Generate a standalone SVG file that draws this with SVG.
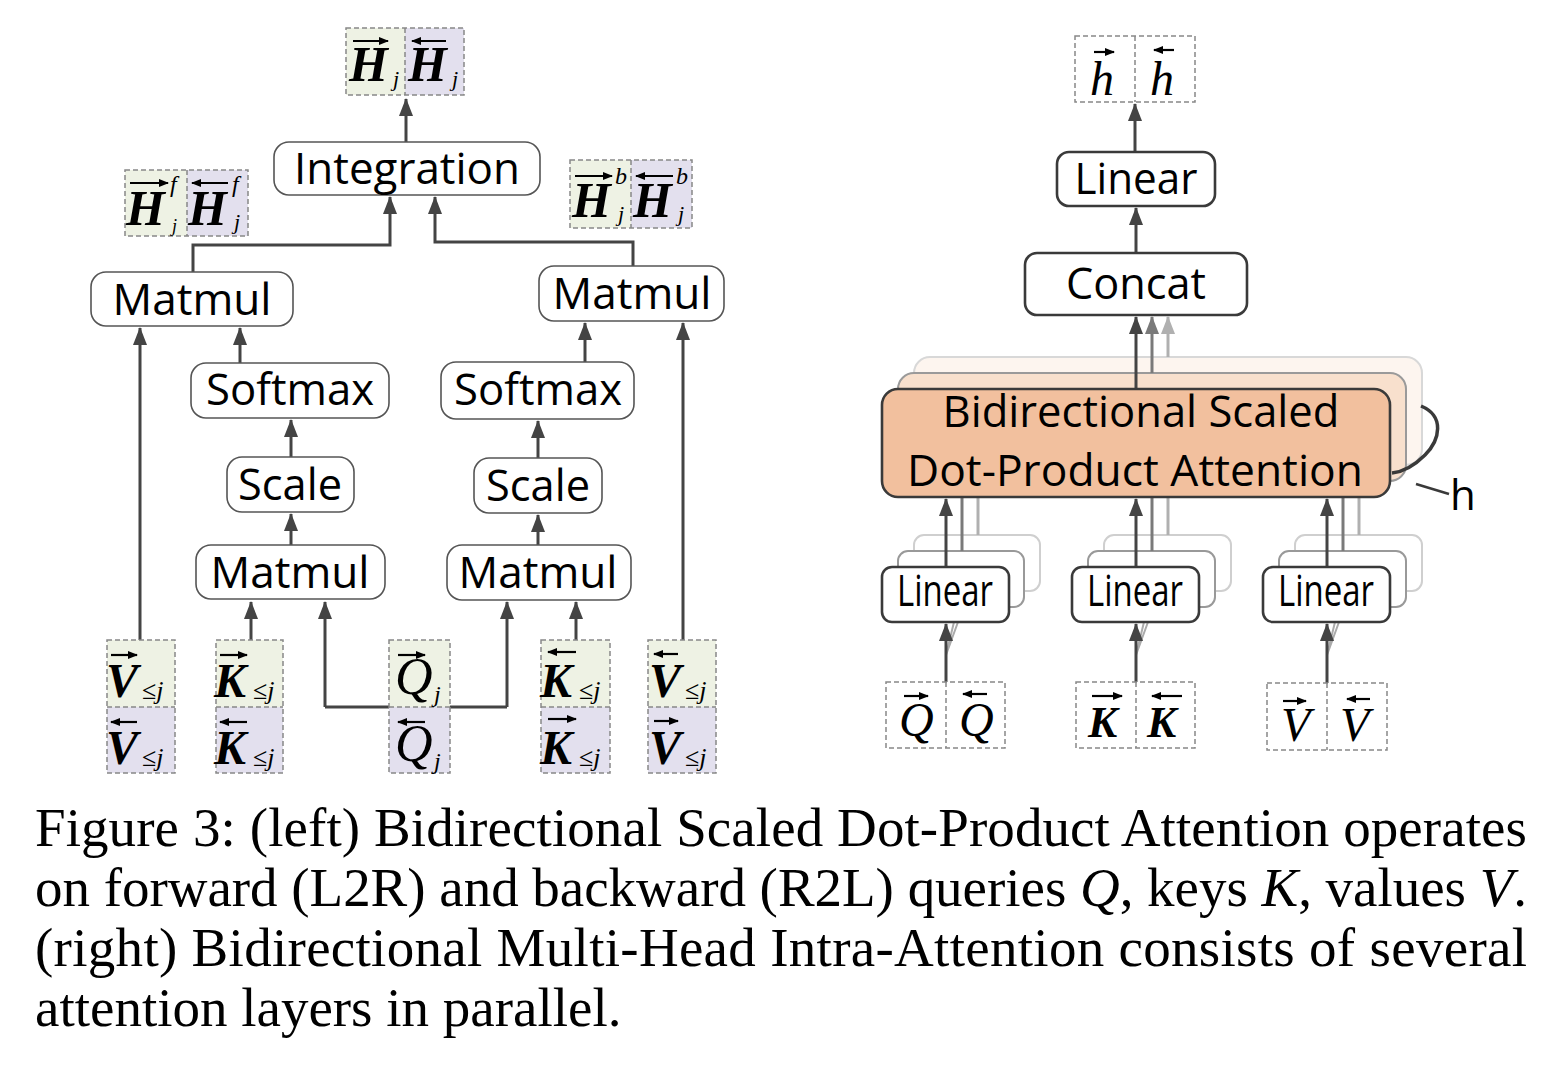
<svg xmlns="http://www.w3.org/2000/svg" width="1560" height="1066" viewBox="0 0 1560 1066">
<style>
.nb{fill:#fff;stroke:#555;stroke-width:1.6}
.nr{fill:#fff;stroke:#3a3a3a;stroke-width:2.6}
.lbl{font-family:"Open Sans","Noto Sans",sans-serif;font-size:43px;fill:#000;text-anchor:middle}
.cg{fill:#eef2e4}
.cp{fill:#e3e0ee}
.cw{fill:#fff}
.dash{fill:none;stroke:#888;stroke-width:1.5;stroke-dasharray:5 3}
.m{font-family:"Liberation Serif","Times New Roman",serif;font-style:italic;fill:#000}
.mb{font-weight:bold}
.ov{fill:none;stroke:#000;stroke-width:2.2}
.c{fill:none;stroke:#444;stroke-width:3}
.c2{fill:none;stroke:#7a7a7a;stroke-width:3}
.c3{fill:none;stroke:#b0b0b0;stroke-width:3}
.cap{font-family:"Liberation Serif","Times New Roman",serif;font-size:55px;fill:#000}
</style>
<defs>
<marker id="ah" markerUnits="userSpaceOnUse" markerWidth="18" markerHeight="14" viewBox="0 0 18 14" refX="17" refY="7" orient="auto"><path d="M0,0 L18,7 L0,14 z" fill="#444"/></marker>
<marker id="ah2" markerUnits="userSpaceOnUse" markerWidth="18" markerHeight="14" viewBox="0 0 18 14" refX="17" refY="7" orient="auto"><path d="M0,0 L18,7 L0,14 z" fill="#7a7a7a"/></marker>
<marker id="ah3" markerUnits="userSpaceOnUse" markerWidth="18" markerHeight="14" viewBox="0 0 18 14" refX="17" refY="7" orient="auto"><path d="M0,0 L18,7 L0,14 z" fill="#b0b0b0"/></marker>
<marker id="oa" markerUnits="userSpaceOnUse" markerWidth="10" markerHeight="8" viewBox="0 0 10 8" refX="9" refY="4" orient="auto"><path d="M0,0 L10,4 L0,8 z" fill="#000"/></marker>
</defs>

<g id="att-back">
<rect x="914" y="357" width="508" height="108" rx="16" fill="#fdf5ef" stroke="#d8d8d8" stroke-width="2"/>
<rect x="898" y="373" width="508" height="108" rx="16" fill="#f8e0cd" stroke="#9a9a9a" stroke-width="2"/>
</g>
<g id="lin-back">
<rect x="914" y="535" width="126" height="56" rx="10" fill="#fff" stroke="#cfcfcf" stroke-width="2"/>
<rect x="898" y="551" width="126" height="56" rx="10" fill="#fff" stroke="#999" stroke-width="2"/>
<rect x="1104" y="535" width="127" height="56" rx="10" fill="#fff" stroke="#cfcfcf" stroke-width="2"/>
<rect x="1088" y="551" width="127" height="56" rx="10" fill="#fff" stroke="#999" stroke-width="2"/>
<rect x="1295" y="535" width="127" height="56" rx="10" fill="#fff" stroke="#cfcfcf" stroke-width="2"/>
<rect x="1279" y="551" width="127" height="56" rx="10" fill="#fff" stroke="#999" stroke-width="2"/>
</g>

<g id="connectors">
<path class="c" d="M406,142 L406,99" marker-end="url(#ah)"/>
<path class="c" d="M193,272 L193,245 L390,245 L390,197" marker-end="url(#ah)"/>
<path class="c" d="M633,266 L633,242 L435,242 L435,197" marker-end="url(#ah)"/>
<path class="c" d="M240,363 L240,328" marker-end="url(#ah)"/>
<path class="c" d="M291,457 L291,420" marker-end="url(#ah)"/>
<path class="c" d="M291,545 L291,514" marker-end="url(#ah)"/>
<path class="c" d="M585,362 L585,323" marker-end="url(#ah)"/>
<path class="c" d="M538,458 L538,421" marker-end="url(#ah)"/>
<path class="c" d="M538,545 L538,515" marker-end="url(#ah)"/>
<path class="c" d="M140,640 L140,328" marker-end="url(#ah)"/>
<path class="c" d="M683,640 L683,323" marker-end="url(#ah)"/>
<path class="c" d="M251,640 L251,602" marker-end="url(#ah)"/>
<path class="c" d="M576,640 L576,602" marker-end="url(#ah)"/>
<path class="c" d="M325,707 L325,602" marker-end="url(#ah)"/>
<path class="c" d="M507,707 L507,602" marker-end="url(#ah)"/>
<path class="c" d="M325,707 L507,707"/>
<path class="c" d="M1135,152 L1135,104" marker-end="url(#ah)"/>
<path class="c" d="M1136,253 L1136,208" marker-end="url(#ah)"/>
<path class="c3" d="M1168,357 L1168,317" marker-end="url(#ah3)"/>
<path class="c2" d="M1152,373 L1152,317" marker-end="url(#ah2)"/>
<path class="c" d="M1136,389 L1136,317" marker-end="url(#ah)"/>
<path class="c3" d="M978,535 L978,497"/>
<path class="c2" d="M962,551 L962,497"/>
<path class="c" d="M946,567 L946,499" marker-end="url(#ah)"/>
<path class="c3" d="M1168,535 L1168,497"/>
<path class="c2" d="M1152,551 L1152,497"/>
<path class="c" d="M1136,567 L1136,499" marker-end="url(#ah)"/>
<path class="c3" d="M1359,535 L1359,497"/>
<path class="c2" d="M1343,551 L1343,497"/>
<path class="c" d="M1327,567 L1327,499" marker-end="url(#ah)"/>
<path d="M946,655 L958,622 M946,655 L954,622" stroke="#aaa" stroke-width="2" fill="none"/>
<path d="M1136,655 L1148,622 M1136,655 L1144,622" stroke="#aaa" stroke-width="2" fill="none"/>
<path d="M1327,655 L1339,622 M1327,655 L1335,622" stroke="#aaa" stroke-width="2" fill="none"/>
<path class="c" d="M946,682 L946,624" marker-end="url(#ah)"/>
<path class="c" d="M1136,682 L1136,624" marker-end="url(#ah)"/>
<path class="c" d="M1327,683 L1327,624" marker-end="url(#ah)"/>
<path d="M1421,406 C1445,416 1440,440 1425,455 C1412,468 1402,472 1392,473" fill="none" stroke="#3a3a3a" stroke-width="3.5"/>
<path d="M1416,484 L1449,494" stroke="#3a3a3a" stroke-width="2.5"/>
</g>

<g id="H-out">
<rect class="cg" x="346" y="28" width="59" height="67"/><rect class="cp" x="405" y="28" width="59" height="67"/>
<rect class="dash" x="346" y="28" width="118" height="67"/><line class="dash" x1="405" y1="28" x2="405" y2="95"/>
<path class="ov" d="M353,41 L388,41" marker-end="url(#oa)"/>
<text class="m mb" x="349" y="81" font-size="50">H</text><text class="m" x="393" y="86" font-size="22">j</text>
<path class="ov" d="M446,41 L412,41" marker-end="url(#oa)"/>
<text class="m mb" x="408" y="81" font-size="50">H</text><text class="m" x="452" y="86" font-size="22">j</text>
</g>
<g id="H-f">
<rect class="cg" x="125" y="170" width="62" height="66"/><rect class="cp" x="187" y="170" width="61" height="66"/>
<rect class="dash" x="125" y="170" width="123" height="66"/><line class="dash" x1="187" y1="170" x2="187" y2="236"/>
<path class="ov" d="M130,183 L168,183" marker-end="url(#oa)"/>
<text class="m mb" x="126" y="225" font-size="50">H</text><text class="m" x="170" y="192" font-size="24">f</text><text class="m" x="172" y="232" font-size="18">j</text>
<path class="ov" d="M228,183 L192,183" marker-end="url(#oa)"/>
<text class="m mb" x="188" y="225" font-size="50">H</text><text class="m" x="232" y="192" font-size="24">f</text><text class="m" x="234" y="229" font-size="22">j</text>
</g>
<g id="H-b">
<rect class="cg" x="570" y="160" width="61" height="68"/><rect class="cp" x="631" y="160" width="61" height="68"/>
<rect class="dash" x="570" y="160" width="122" height="68"/><line class="dash" x1="631" y1="160" x2="631" y2="228"/>
<path class="ov" d="M575,176 L612,176" marker-end="url(#oa)"/>
<text class="m mb" x="572" y="217" font-size="50">H</text><text class="m" x="615" y="184" font-size="24">b</text><text class="m" x="618" y="221" font-size="22">j</text>
<path class="ov" d="M673,176 L636,176" marker-end="url(#oa)"/>
<text class="m mb" x="633" y="217" font-size="50">H</text><text class="m" x="676" y="184" font-size="24">b</text><text class="m" x="678" y="221" font-size="22">j</text>
</g>
<g id="integration"><rect class="nb" x="274" y="142" width="266" height="53" rx="15"/><text class="lbl" x="407" y="184" textLength="226" lengthAdjust="spacingAndGlyphs">Integration</text></g>
<g id="matmul-top-l"><rect class="nb" x="91" y="272" width="202" height="54" rx="15"/><text class="lbl" x="192" y="315" font-size="45" textLength="159" lengthAdjust="spacingAndGlyphs">Matmul</text></g>
<g id="matmul-top-r"><rect class="nb" x="539" y="266" width="185" height="55" rx="15"/><text class="lbl" x="632" y="309" font-size="45" textLength="159" lengthAdjust="spacingAndGlyphs">Matmul</text></g>
<g id="softmax-l"><rect class="nb" x="191" y="363" width="198" height="55" rx="15"/><text class="lbl" x="290" y="405" textLength="168" lengthAdjust="spacingAndGlyphs">Softmax</text></g>
<g id="softmax-r"><rect class="nb" x="441" y="362" width="193" height="57" rx="15"/><text class="lbl" x="538" y="405" textLength="168" lengthAdjust="spacingAndGlyphs">Softmax</text></g>
<g id="scale-l"><rect class="nb" x="227" y="457" width="127" height="55" rx="15"/><text class="lbl" x="290" y="500" textLength="104" lengthAdjust="spacingAndGlyphs">Scale</text></g>
<g id="scale-r"><rect class="nb" x="474" y="458" width="128" height="55" rx="15"/><text class="lbl" x="538" y="501" textLength="104" lengthAdjust="spacingAndGlyphs">Scale</text></g>
<g id="matmul-bot-l"><rect class="nb" x="196" y="545" width="189" height="54" rx="15"/><text class="lbl" x="290" y="588" textLength="159" lengthAdjust="spacingAndGlyphs">Matmul</text></g>
<g id="matmul-bot-r"><rect class="nb" x="447" y="545" width="184" height="55" rx="15"/><text class="lbl" x="538" y="588" textLength="159" lengthAdjust="spacingAndGlyphs">Matmul</text></g>

<g id="V-l">
<rect class="cg" x="107" y="640" width="68" height="67"/><rect class="cp" x="107" y="707" width="68" height="66"/>
<rect class="dash" x="107" y="640" width="68" height="133"/><line class="dash" x1="107" y1="707" x2="175" y2="707"/>
<path class="ov" d="M111,655 L137,655" marker-end="url(#oa)"/>
<text class="m mb" x="106" y="697" font-size="48">V</text><text class="m" x="142" y="699" font-size="26"><tspan font-style="normal">≤</tspan>j</text>
<path class="ov" d="M137,722 L111,722" marker-end="url(#oa)"/>
<text class="m mb" x="106" y="764" font-size="48">V</text><text class="m" x="142" y="766" font-size="26"><tspan font-style="normal">≤</tspan>j</text>
</g>
<g id="K-l">
<rect class="cg" x="216" y="640" width="67" height="67"/><rect class="cp" x="216" y="707" width="67" height="66"/>
<rect class="dash" x="216" y="640" width="67" height="133"/><line class="dash" x1="216" y1="707" x2="283" y2="707"/>
<path class="ov" d="M220,655 L247,655" marker-end="url(#oa)"/>
<text class="m mb" x="214" y="697" font-size="48">K</text><text class="m" x="253" y="699" font-size="26"><tspan font-style="normal">≤</tspan>j</text>
<path class="ov" d="M247,722 L220,722" marker-end="url(#oa)"/>
<text class="m mb" x="214" y="764" font-size="48">K</text><text class="m" x="253" y="766" font-size="26"><tspan font-style="normal">≤</tspan>j</text>
</g>
<g id="Q-l">
<rect class="cg" x="389" y="640" width="61" height="67"/><rect class="cp" x="389" y="707" width="61" height="66"/>
<rect class="dash" x="389" y="640" width="61" height="133"/><line class="dash" x1="389" y1="707" x2="450" y2="707"/>
<path class="ov" d="M398,655 L425,655" marker-end="url(#oa)"/>
<text class="m" x="395" y="694" font-size="52">Q</text><text class="m" x="434" y="702" font-size="24">j</text>
<path class="ov" d="M425,722 L398,722" marker-end="url(#oa)"/>
<text class="m" x="395" y="761" font-size="52">Q</text><text class="m" x="434" y="769" font-size="24">j</text>
</g>
<g id="K-r">
<rect class="cg" x="541" y="640" width="69" height="67"/><rect class="cp" x="541" y="707" width="69" height="66"/>
<rect class="dash" x="541" y="640" width="69" height="133"/><line class="dash" x1="541" y1="707" x2="610" y2="707"/>
<path class="ov" d="M576,652 L548,652" marker-end="url(#oa)"/>
<text class="m mb" x="540" y="697" font-size="48">K</text><text class="m" x="579" y="699" font-size="26"><tspan font-style="normal">≤</tspan>j</text>
<path class="ov" d="M548,719 L576,719" marker-end="url(#oa)"/>
<text class="m mb" x="540" y="764" font-size="48">K</text><text class="m" x="579" y="766" font-size="26"><tspan font-style="normal">≤</tspan>j</text>
</g>
<g id="V-r">
<rect class="cg" x="648" y="640" width="68" height="67"/><rect class="cp" x="648" y="707" width="68" height="66"/>
<rect class="dash" x="648" y="640" width="68" height="133"/><line class="dash" x1="648" y1="707" x2="716" y2="707"/>
<path class="ov" d="M678,654 L654,654" marker-end="url(#oa)"/>
<text class="m mb" x="649" y="697" font-size="48">V</text><text class="m" x="685" y="699" font-size="26"><tspan font-style="normal">≤</tspan>j</text>
<path class="ov" d="M654,721 L678,721" marker-end="url(#oa)"/>
<text class="m mb" x="649" y="764" font-size="48">V</text><text class="m" x="685" y="766" font-size="26"><tspan font-style="normal">≤</tspan>j</text>
</g>

<g id="h-out">
<rect class="cw" x="1075" y="36" width="120" height="66"/>
<rect class="dash" x="1075" y="36" width="120" height="66"/><line class="dash" x1="1135" y1="36" x2="1135" y2="102"/>
<path class="ov" d="M1094,52 L1114,52" marker-end="url(#oa)"/>
<text class="m" x="1090" y="95" font-size="48">h</text>
<path class="ov" d="M1174,50 L1154,50" marker-end="url(#oa)"/>
<text class="m" x="1150" y="95" font-size="48">h</text>
</g>
<g id="linear-top"><rect class="nr" x="1057" y="152" width="158" height="54" rx="12"/><text class="lbl" x="1136" y="194" textLength="123" lengthAdjust="spacingAndGlyphs">Linear</text></g>
<g id="concat"><rect class="nr" x="1025" y="253" width="222" height="62" rx="12"/><text class="lbl" x="1136" y="299" textLength="140" lengthAdjust="spacingAndGlyphs">Concat</text></g>
<g id="attention">
<rect x="882" y="389" width="508" height="108" rx="16" fill="#f2c09e" stroke="#3a3a3a" stroke-width="2.6"/>
<text class="lbl" x="1141" y="427" textLength="397" lengthAdjust="spacingAndGlyphs">Bidirectional Scaled</text>
<text class="lbl" x="1135" y="486" textLength="456" lengthAdjust="spacingAndGlyphs">Dot-Product Attention</text>
</g>
<text x="1450" y="510" font-family="Open Sans, sans-serif" font-size="42" fill="#000">h</text>
<g id="linear-q"><rect class="nr" x="882" y="567" width="127" height="55" rx="10"/><text class="lbl" x="945" y="606" font-size="34" textLength="96" lengthAdjust="spacingAndGlyphs">Linear</text></g>
<g id="linear-k"><rect class="nr" x="1072" y="567" width="127" height="55" rx="10"/><text class="lbl" x="1135" y="606" font-size="34" textLength="96" lengthAdjust="spacingAndGlyphs">Linear</text></g>
<g id="linear-v"><rect class="nr" x="1263" y="567" width="127" height="55" rx="10"/><text class="lbl" x="1326" y="606" font-size="34" textLength="96" lengthAdjust="spacingAndGlyphs">Linear</text></g>
<g id="Q-in">
<rect class="cw" x="886" y="682" width="119" height="66"/>
<rect class="dash" x="886" y="682" width="119" height="66"/><line class="dash" x1="946" y1="682" x2="946" y2="748"/>
<path class="ov" d="M904,696 L928,696" marker-end="url(#oa)"/>
<text class="m" x="899" y="736" font-size="48">Q</text>
<path class="ov" d="M987,694 L963,694" marker-end="url(#oa)"/>
<text class="m" x="959" y="736" font-size="48">Q</text>
</g>
<g id="K-in">
<rect class="cw" x="1076" y="682" width="119" height="66"/>
<rect class="dash" x="1076" y="682" width="119" height="66"/><line class="dash" x1="1136" y1="682" x2="1136" y2="748"/>
<path class="ov" d="M1092,696 L1122,696" marker-end="url(#oa)"/>
<text class="m mb" x="1088" y="737" font-size="44">K</text>
<path class="ov" d="M1182,696 L1152,696" marker-end="url(#oa)"/>
<text class="m mb" x="1147" y="737" font-size="44">K</text>
</g>
<g id="V-in">
<rect class="cw" x="1267" y="683" width="120" height="67"/>
<rect class="dash" x="1267" y="683" width="120" height="67"/><line class="dash" x1="1327" y1="683" x2="1327" y2="750"/>
<path class="ov" d="M1283,701 L1306,701" marker-end="url(#oa)"/>
<text class="m" x="1281" y="741" font-size="48">V</text>
<path class="ov" d="M1370,699 L1347,699" marker-end="url(#oa)"/>
<text class="m" x="1340" y="741" font-size="48">V</text>
</g>

<g id="caption">
<text class="cap" x="35" y="846" textLength="1492" lengthAdjust="spacing">Figure 3: (left) Bidirectional Scaled Dot-Product Attention operates</text>
<text class="cap" x="35" y="906" textLength="1492" lengthAdjust="spacing">on forward (L2R) and backward (R2L) queries <tspan font-style="italic">Q</tspan>, keys <tspan font-style="italic">K</tspan>, values <tspan font-style="italic">V</tspan>.</text>
<text class="cap" x="35" y="966" textLength="1492" lengthAdjust="spacing">(right) Bidirectional Multi-Head Intra-Attention consists of several</text>
<text class="cap" x="35" y="1026">attention layers in parallel.</text>
</g>
</svg>
